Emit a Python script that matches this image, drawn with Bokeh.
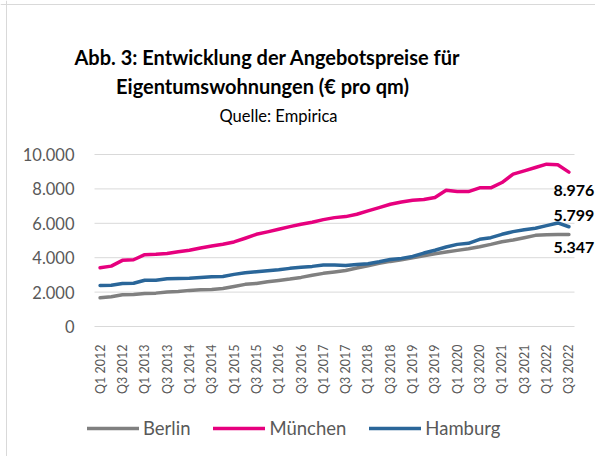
from bokeh.plotting import figure
from bokeh.models import Range1d, FixedTicker, Label, Legend, LegendItem, Span
from bokeh.embed import file_html
from bokeh.resources import INLINE

# ---- data ----
quarters = ["Q1 2012", "Q2 2012", "Q3 2012", "Q4 2012", "Q1 2013", "Q2 2013", "Q3 2013", "Q4 2013",
            "Q1 2014", "Q2 2014", "Q3 2014", "Q4 2014", "Q1 2015", "Q2 2015", "Q3 2015", "Q4 2015",
            "Q1 2016", "Q2 2016", "Q3 2016", "Q4 2016", "Q1 2017", "Q2 2017", "Q3 2017", "Q4 2017",
            "Q1 2018", "Q2 2018", "Q3 2018", "Q4 2018", "Q1 2019", "Q2 2019", "Q3 2019", "Q4 2019",
            "Q1 2020", "Q2 2020", "Q3 2020", "Q4 2020", "Q1 2021", "Q2 2021", "Q3 2021", "Q4 2021",
            "Q1 2022", "Q2 2022", "Q3 2022"]
x_tick_labels = ["Q1 2012", "Q3 2012", "Q1 2013", "Q3 2013", "Q1 2014", "Q3 2014", "Q1 2015", "Q3 2015",
                 "Q1 2016", "Q3 2016", "Q1 2017", "Q3 2017", "Q1 2018", "Q3 2018", "Q1 2019", "Q3 2019",
                 "Q1 2020", "Q3 2020", "Q1 2021", "Q3 2021", "Q1 2022", "Q3 2022"]
berlin = [1670, 1730, 1845, 1865, 1920, 1940, 2000, 2040, 2100, 2135, 2155, 2215, 2330, 2450, 2505,
          2600, 2680, 2760, 2855, 2975, 3090, 3170, 3260, 3400, 3535, 3670, 3785, 3880, 4000, 4115,
          4230, 4330, 4425, 4525, 4640, 4775, 4930, 5030, 5165, 5300, 5340, 5345, 5347]
muenchen = [3415, 3510, 3845, 3880, 4175, 4195, 4250, 4350, 4430, 4565, 4680, 4780, 4915, 5130, 5360,
            5500, 5650, 5805, 5940, 6060, 6215, 6330, 6390, 6525, 6720, 6910, 7105, 7240, 7340, 7380,
            7495, 7920, 7845, 7845, 8060, 8060, 8370, 8855, 9050, 9245, 9440, 9400, 8976]
hamburg = [2384, 2400, 2500, 2515, 2690, 2690, 2770, 2790, 2810, 2850, 2890, 2910, 3030, 3120, 3185,
           3240, 3300, 3380, 3440, 3495, 3575, 3575, 3553, 3610, 3650, 3765, 3900, 3960, 4075, 4270,
           4430, 4620, 4775, 4835, 5070, 5165, 5360, 5515, 5630, 5710, 5865, 6020, 5799]
y_ticks = [0, 2000, 4000, 6000, 8000, 10000]
y_tick_labels = ["0", "2.000", "4.000", "6.000", "8.000", "10.000"]
series_names = ["Berlin", "München", "Hamburg"]
title_lines = ["Abb. 3: Entwicklung der Angebotspreise für", "Eigentumswohnungen (€ pro qm)"]
subtitle = "Quelle: Empirica"

FONT = "Lato"
GRAY_TXT = "#595959"
GRID = "#d9d9d9"
colors = ["#808080", "#e6007e", "#2a6699"]

n = len(quarters)
x = list(range(n))

# geometry (px): the frame covers the whole canvas, axes sit at fixed locations
W, H = 595, 456
PLOT_L, PLOT_W = 94, 480      # category area left edge and width
PLOT_T, PLOT_B = 154, 326     # pixel rows of 10.000 and 0
ux = PLOT_W / n                                # px per category
uy = (PLOT_B - PLOT_T) / y_ticks[-1]           # px per euro
x0 = -0.5 - PLOT_L / ux
y0 = -(H - PLOT_B) / uy

p = figure(width=W, height=H, output_backend="svg", toolbar_location=None,
           x_range=Range1d(x0, x0 + W / ux), y_range=Range1d(y0, y0 + H / uy),
           min_border=0, outline_line_color=None)

# chart-area border (left and top edges)
p.add_layout(Span(location=x0 + 6 / ux, dimension="height", line_color=GRID, line_width=1))
p.add_layout(Span(location=y0 + (H - 4) / uy, dimension="width", line_color=GRID, line_width=1))

# axes
p.xaxis.fixed_location = y_ticks[0]
p.xaxis.ticker = FixedTicker(ticks=[quarters.index(l) for l in x_tick_labels])
p.xaxis.major_label_overrides = {quarters.index(l): l for l in x_tick_labels}
p.xaxis.major_label_orientation = 3.14159265 / 2
p.xaxis.major_label_text_font = FONT
p.xaxis.major_label_text_font_size = "12.5px"
p.xaxis.major_label_text_color = GRAY_TXT
p.xaxis.major_label_standoff = 12
p.xaxis.axis_line_color = None
p.xaxis.major_tick_line_color = None
p.xaxis.minor_tick_line_color = None

p.yaxis.fixed_location = -0.5
p.yaxis.ticker = FixedTicker(ticks=y_ticks)
p.yaxis.major_label_overrides = dict(zip(y_ticks, y_tick_labels))
p.yaxis.major_label_text_font = FONT
p.yaxis.major_label_text_font_size = "16.5px"
p.yaxis.major_label_text_color = GRAY_TXT
p.yaxis.major_label_standoff = 14
p.yaxis.axis_line_color = None
p.yaxis.major_tick_line_color = None
p.yaxis.minor_tick_line_color = None

p.xgrid.grid_line_color = None
p.ygrid.grid_line_color = None
# horizontal gridlines only across the category area
p.segment(x0=[-0.5] * len(y_ticks), x1=[n - 0.5] * len(y_ticks), y0=y_ticks, y1=y_ticks,
          line_color=GRID, line_width=1)

renderers = []
for vals, c in zip([berlin, muenchen, hamburg], colors):
    r = p.line(x, vals, line_color=c, line_width=3.5, line_join="round", line_cap="round")
    renderers.append(r)

# end-value labels
last = n - 1
for vals, dy in zip([muenchen, hamburg, berlin], [-18, 11, -13]):
    v = vals[-1]
    txt = f"{v:,}".replace(",", ".")
    p.add_layout(Label(x=last, y=v, text=txt, x_offset=5, y_offset=dy,
                       text_align="center", text_baseline="alphabetic",
                       text_font=FONT, text_font_style="bold", text_font_size="16px",
                       text_color="#000000"))

# titles (screen units, measured from the canvas left / bottom)
for txt, (tx, ty) in zip(title_lines, [(267, H - 56), (262, H - 85)]):
    p.add_layout(Label(x=tx, y=ty, x_units="screen", y_units="screen", text=txt,
                       text_align="center", text_baseline="alphabetic",
                       text_font=FONT, text_font_style="bold", text_font_size="20px",
                       text_color="#000000"))
p.add_layout(Label(x=278, y=H - 115, x_units="screen", y_units="screen", text=subtitle,
                   text_align="center", text_baseline="alphabetic",
                   text_font=FONT, text_font_size="16.5px", text_color="#000000"))

legend = Legend(items=[LegendItem(label=s, renderers=[r]) for s, r in zip(series_names, renderers)],
                orientation="horizontal", location=(87, H - 439),
                glyph_width=52, glyph_height=20, label_height=20, label_standoff=4, spacing=23,
                label_text_font=FONT, label_text_font_size="18.5px", label_text_color=GRAY_TXT,
                padding=0, margin=0, border_line_color=None, background_fill_alpha=0)
p.add_layout(legend)

open("out.html", "w").write(file_html(p, INLINE))
